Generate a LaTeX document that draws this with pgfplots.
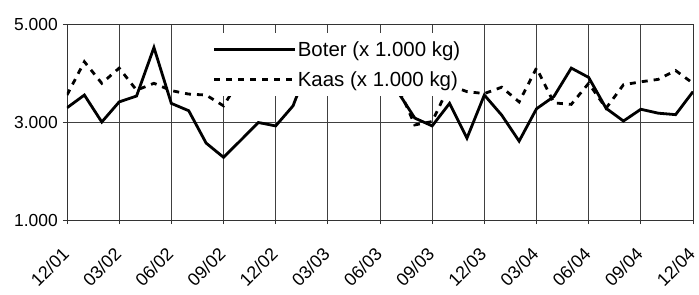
\documentclass[border=0pt]{standalone}
\usepackage{fontspec}
\setmainfont{Liberation Sans}
\usepackage{pgfplots}
\pgfplotsset{compat=1.18}
\begin{document}
\begin{tikzpicture}
\begin{axis}[
  name=ax,
  scale only axis,
  width=626bp, height=196bp,
  xmin=0, xmax=36, ymin=1, ymax=5,
  xtick={0,3,...,36},
  xticklabels={12/01,03/02,06/02,09/02,12/02,03/03,06/03,09/03,12/03,03/04,06/04,09/04,12/04},
  ytick={1,3,5},
  yticklabels={1.000,3.000,5.000},
  grid=major,
  major grid style={black!75, line width=0.7bp},
  axis line style={black!80, line width=0.8bp},
  tick style={black!80, line width=0.7bp},
  tick align=outside,
  major tick length=4bp,
  xtick pos=left, ytick pos=left,
  yticklabel style={font=\fontsize{17.5}{17.5}\selectfont, inner sep=1bp, xshift=-4bp},
  xticklabel style={font=\fontsize{18}{18}\selectfont, xshift=-6bp, yshift=-21bp, rotate=45, anchor=north east, inner sep=1bp},
  legend style={at={(0.233,0.954)}, anchor=north west, draw=none, fill=white,
    font=\fontsize{20.5}{20.5}\selectfont, inner xsep=0bp, inner ysep=6bp,
    row sep=10bp, nodes={inner xsep=1bp, inner ysep=2bp}},
  legend cell align=left,
  legend image code/.code={\draw[#1] (0bp,0bp) -- (81bp,0bp);},
  clip=true,
]
\addplot[black, line width=2.8bp, line join=miter] coordinates {
(0,3.29) (1,3.55) (2,3.00) (3,3.41) (4,3.53) (5,4.52) (6,3.38) (7,3.23) (8,2.57) (9,2.28)
(10,2.63) (11,2.99) (12,2.92) (13,3.33) (14,4.25) (15,4.5) (16,4.3) (17,4.0) (18,3.9) (19,3.63)
(20,3.08) (21,2.92) (22,3.38) (23,2.67) (24,3.55) (25,3.14) (26,2.61) (27,3.27) (28,3.52) (29,4.10)
(30,3.91) (31,3.28) (32,3.02) (33,3.26) (34,3.18) (35,3.15) (36,3.62)
};
\addlegendentry{Boter (x 1.000 kg)}
\addplot[black, line width=2.8bp, dash pattern=on 6bp off 6bp] coordinates {
(0,3.55) (1,4.23) (2,3.79) (3,4.10) (4,3.65) (5,3.79) (6,3.64) (7,3.57) (8,3.55) (9,3.33)
(10,3.9) (11,4.0) (12,3.9) (13,4.1) (14,4.0) (15,4.2) (16,4.0) (17,4.1) (18,3.9) (19,3.75)
(20,2.94) (21,3.01) (22,3.75) (23,3.62) (24,3.58) (25,3.71) (26,3.41) (27,4.10) (28,3.39) (29,3.36)
(30,3.79) (31,3.28) (32,3.76) (33,3.82) (34,3.87) (35,4.05) (36,3.79)
};
\addlegendentry{Kaas (x 1.000 kg)}
\end{axis}
\pgfresetboundingbox
\path (ax.south west) ++(-67bp,-75bp) rectangle ++(699bp,295bp);
\end{tikzpicture}
\end{document}
